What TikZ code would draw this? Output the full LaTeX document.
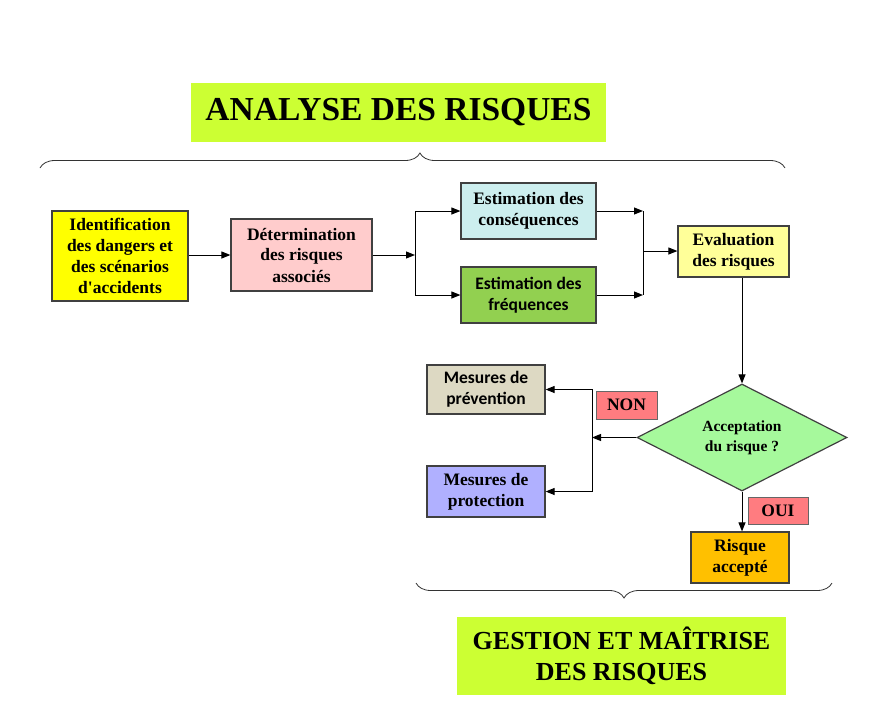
\documentclass[tikz,border=0pt]{standalone}
\usepackage{fontspec}
\setmainfont{Liberation Serif}
\newfontfamily\calibri{Carlito}
\usetikzlibrary{arrows.meta,shapes.geometric,decorations.pathreplacing}
\definecolor{titlegreen}{HTML}{CCFF33}
\definecolor{identyellow}{HTML}{FFFF00}
\definecolor{detpink}{HTML}{FFCCCC}
\definecolor{conscyan}{HTML}{CCEEEE}
\definecolor{freqgreen}{HTML}{92D050}
\definecolor{evalyellow}{HTML}{FFFF99}
\definecolor{accgreen}{HTML}{A6F99C}
\definecolor{prevbeige}{HTML}{DDD9C3}
\definecolor{protblue}{HTML}{B0B0FF}
\definecolor{tagred}{HTML}{FF7C80}
\definecolor{riskorange}{HTML}{FFC000}
\begin{document}
\begin{tikzpicture}[x=1pt,y=-1pt,
  box/.style={draw=black!75, line width=1.2pt, align=center, inner sep=0pt,
    font=\fontsize{17.5}{21}\selectfont\bfseries},
  sansbox/.style={box, font=\fontsize{17.5}{21}\calibri\bfseries},
  arr/.style={-{Triangle[length=9pt,width=7pt]}, line width=1pt},
  tag/.style={draw=black!60, line width=1pt, fill=tagred, inner sep=0pt,
    font=\fontsize{17.5}{20}\selectfont\bfseries},
  banner/.style={fill=titlegreen, align=center, inner sep=0pt},
  curly/.style={decorate, decoration={brace, amplitude=15pt}, line width=0.8pt, black!80}]
\useasboundingbox (0,0) rectangle (881,702);

% Titles
\node[banner, minimum width=415pt, minimum height=59pt, font=\fontsize{33.5}{36}\selectfont\bfseries] (T1) at (398.5,112.5) {ANALYSE DES RISQUES};
\node[banner, minimum width=329pt, minimum height=78pt, font=\fontsize{26}{31}\selectfont\bfseries] (T2) at (621.5,656) {GESTION ET MAÎTRISE\\DES RISQUES};

% Braces
\draw[curly, decoration={aspect=0.51}] (40,168) -- (785,168);
\draw[curly] (832,583) -- (416,583);

% Analysis boxes
\node[box, fill=identyellow, minimum width=136pt, minimum height=90pt] (ident) at (120,256) {Identification\\des dangers et\\des scénarios\\d\textquotesingle accidents};
\node[box, fill=detpink, minimum width=141pt, minimum height=72pt] (det) at (301.5,255) {Détermination\\des risques\\associés};
\node[box, fill=conscyan, minimum width=135pt, minimum height=56pt] (cons) at (528.5,211) {Estimation des\\conséquences};
\node[sansbox, fill=freqgreen, minimum width=135pt, minimum height=56pt] (freq) at (528.5,295) {Estimation des\\fréquences};
\node[box, fill=evalyellow, minimum width=111pt, minimum height=51pt] (eval) at (733.5,251.5) {Evaluation\\des risques};

% Management boxes
\node[diamond, aspect=2, draw=black!75, line width=1.2pt, fill=accgreen, align=center, inner sep=0pt,
  minimum width=210pt, minimum height=107pt, font=\fontsize{15.5}{20}\selectfont\bfseries] (acc) at (742,437.5) {Acceptation\\du risque ?};
\node[sansbox, fill=prevbeige, minimum width=118pt, minimum height=49pt] (prev) at (486,389.5) {Mesures de\\prévention};
\node[box, fill=protblue, minimum width=118pt, minimum height=51pt] (prot) at (486,491.5) {Mesures de\\protection};
\node[box, fill=riskorange, minimum width=98pt, minimum height=51pt] (risk) at (740,557.5) {Risque\\accepté};
\node[tag, minimum width=61pt, minimum height=28pt] (non) at (626.5,405) {NON};
\node[tag, minimum width=60pt, minimum height=27pt] (oui) at (778,510.5) {OUI};

% Junctions
\coordinate (split) at (415,255);
\coordinate (join) at (643,251);
\coordinate (choice) at (592,437.5);

% Arrows
\draw[arr] (ident.east |- det) -- (det.west);
\draw[arr] (det.east) -- (split);
\draw[arr] (split) |- (cons.west);
\draw[arr] (split) |- (freq.west);
\draw[arr] (cons.east) -- (cons.east -| join);
\draw[arr] (freq.east) -- (freq.east -| join);
\draw[line width=1pt] (cons.east -| join) -- (freq.east -| join);
\draw[arr] (join) -- (join -| eval.west);
\draw[arr] (acc.north |- eval.south) -- (acc.north);
\draw[arr] (acc.west) -- (choice);
\draw[arr] (choice) |- (prev.east);
\draw[arr] (choice) |- (prot.east);
\draw[arr] (acc.south) -- (acc.south |- risk.north);
\end{tikzpicture}
\end{document}
